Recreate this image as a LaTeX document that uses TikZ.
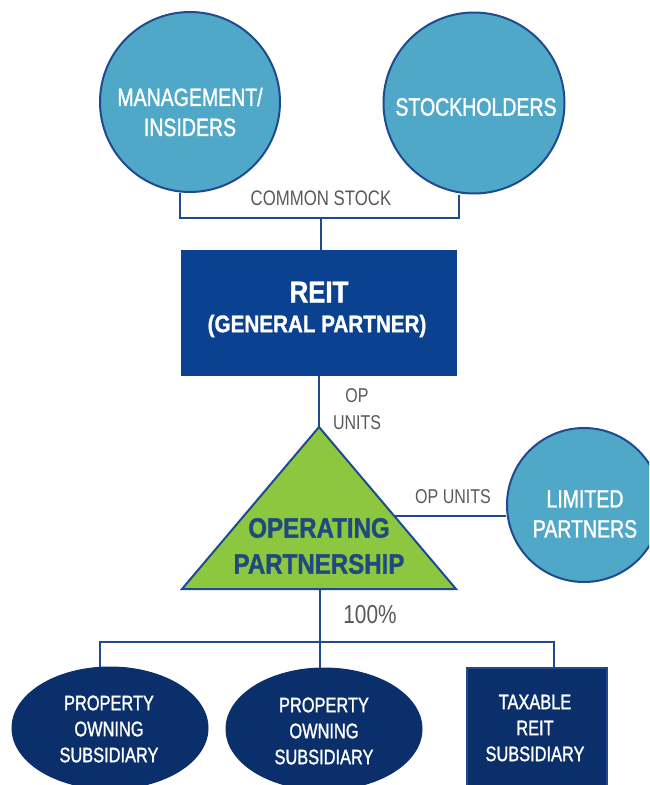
\documentclass[tikz,border=0pt]{standalone}
\usepackage{fontspec}
\setmainfont{Liberation Sans}[FakeStretch=0.8]
\newfontfamily\medfont{Liberation Sans}[FakeStretch=0.78,FakeBold=1.3]
\newfontfamily\boldcond{Liberation Sans Bold}[FakeStretch=0.86,FakeBold=1.2]
\usetikzlibrary{calc,shapes.geometric}
\definecolor{lblue}{HTML}{4FA8C8}
\definecolor{edgeblue}{HTML}{1F4A8F}
\definecolor{reitblue}{HTML}{0B4191}
\definecolor{navy}{HTML}{0A2F6B}
\definecolor{opgreen}{HTML}{8DC63F}
\definecolor{optext}{HTML}{1F4A80}
\definecolor{lblgray}{HTML}{595959}
\begin{document}
\begin{tikzpicture}[x=1pt,y=-1pt,
  circ/.style={circle,fill=lblue,draw=edgeblue,line width=2pt,inner sep=0pt},
  ctext/.style={text=white,align=center,font=\medfont\fontsize{25}{30}\selectfont},
  conn/.style={draw=edgeblue,line width=2.2pt},
  glabel/.style={text=lblgray,align=center,font=\fontsize{20}{27}\selectfont},
  subtext/.style={text=white,align=center,font=\medfont\fontsize{21}{26}\selectfont},
  navyshape/.style={fill=navy,draw=navy,line width=1pt,inner sep=0pt}]
\useasboundingbox (0,0) rectangle (649,785);
\clip (0,0) rectangle (649,785);

\coordinate (jl) at (180,218);
\coordinate (jm) at (321,218);
\coordinate (jr) at (459,218);
\coordinate (apex) at (319,427);
\coordinate (bl) at (182,589);
\coordinate (br) at (456,589);
\coordinate (ep) at ($(apex)!0.55!(br)$);
\coordinate (bm) at (320,589);
\coordinate (hm) at (320,642);
\coordinate (hl) at (100,642);
\coordinate (hr) at (554,642);

% top circles
\node[circ,minimum size=180pt] (mgmt) at (190,102) {};
\node[ctext] (mgmtT) at (190,112) {MANAGEMENT/\\INSIDERS};
\node[circ,minimum size=181pt] (stock) at (474,103) {};
\node[ctext] (stockT) at (476,107) {STOCKHOLDERS};

\node[glabel,font=\fontsize{21}{24}\selectfont] (cs) at (321,198) {COMMON STOCK};

% REIT box
\node[rectangle,fill=reitblue,inner sep=0pt,minimum width=276pt,minimum height=126pt] (reit) at (319,313) {};
\node[text=white,font=\boldcond\fontsize{30}{36}\selectfont] (reitT) at (319,292) {REIT};
\node[text=white,font=\boldcond\fontsize{24}{30}\selectfont] (gpT) at (317,326) {(GENERAL PARTNER)};

\path[conn] (mgmt.south -| jl) -- (jl) -- (jr) -- (stock.south -| jr);
\path[conn] (jm) -- (reit.north -| jm);
\path[conn] (reit.south -| apex) -- (apex);

\node[glabel] (opu1) at (357,409.5) {OP\\UNITS};

% operating partnership triangle
\path[fill=opgreen,draw=edgeblue,line width=2pt,line join=miter] (apex) -- (br) -- (bl) -- cycle;
\node[text=optext,align=center,font=\boldcond\fontsize{28}{36}\selectfont] (opT) at (319,546) {OPERATING\\PARTNERSHIP};

% limited partners
\node[circ,minimum size=154pt] (lp) at (584,505) {};
\node[ctext] (lpT) at (585,514) {LIMITED\\PARTNERS};
\path[conn] (ep) -- (ep -| lp.west);
\node[glabel] (opu2) at (453,497) {OP UNITS};

% bottom tree
\node[glabel,font=\fontsize{26}{30}\selectfont] (pct) at (370,615) {100\%};
\path[conn] (bm) -- (hm);
\path[conn,line cap=rect] (hl) -- (hr);

\node[navyshape,ellipse,minimum width=196pt,minimum height=122pt] (pos1) at (110,728) {};
\node[subtext] (pos1T) at (109,729) {PROPERTY\\OWNING\\SUBSIDIARY};
\node[navyshape,ellipse,minimum width=196pt,minimum height=122pt] (pos2) at (324,729) {};
\node[subtext] (pos2T) at (324,731) {PROPERTY\\OWNING\\SUBSIDIARY};
\node[rectangle,fill=navy,draw=edgeblue,line width=1.5pt,inner sep=0pt,minimum width=140pt,minimum height=140pt] (trs) at (537,738) {};
\node[subtext] (trsT) at (535,728) {TAXABLE\\REIT\\SUBSIDIARY};

\path[conn] (hl) -- (hl |- pos1.north);
\path[conn] (hm) -- (hm |- pos2.north);
\path[conn] (hr) -- (hr |- trs.north);
\end{tikzpicture}
\end{document}
